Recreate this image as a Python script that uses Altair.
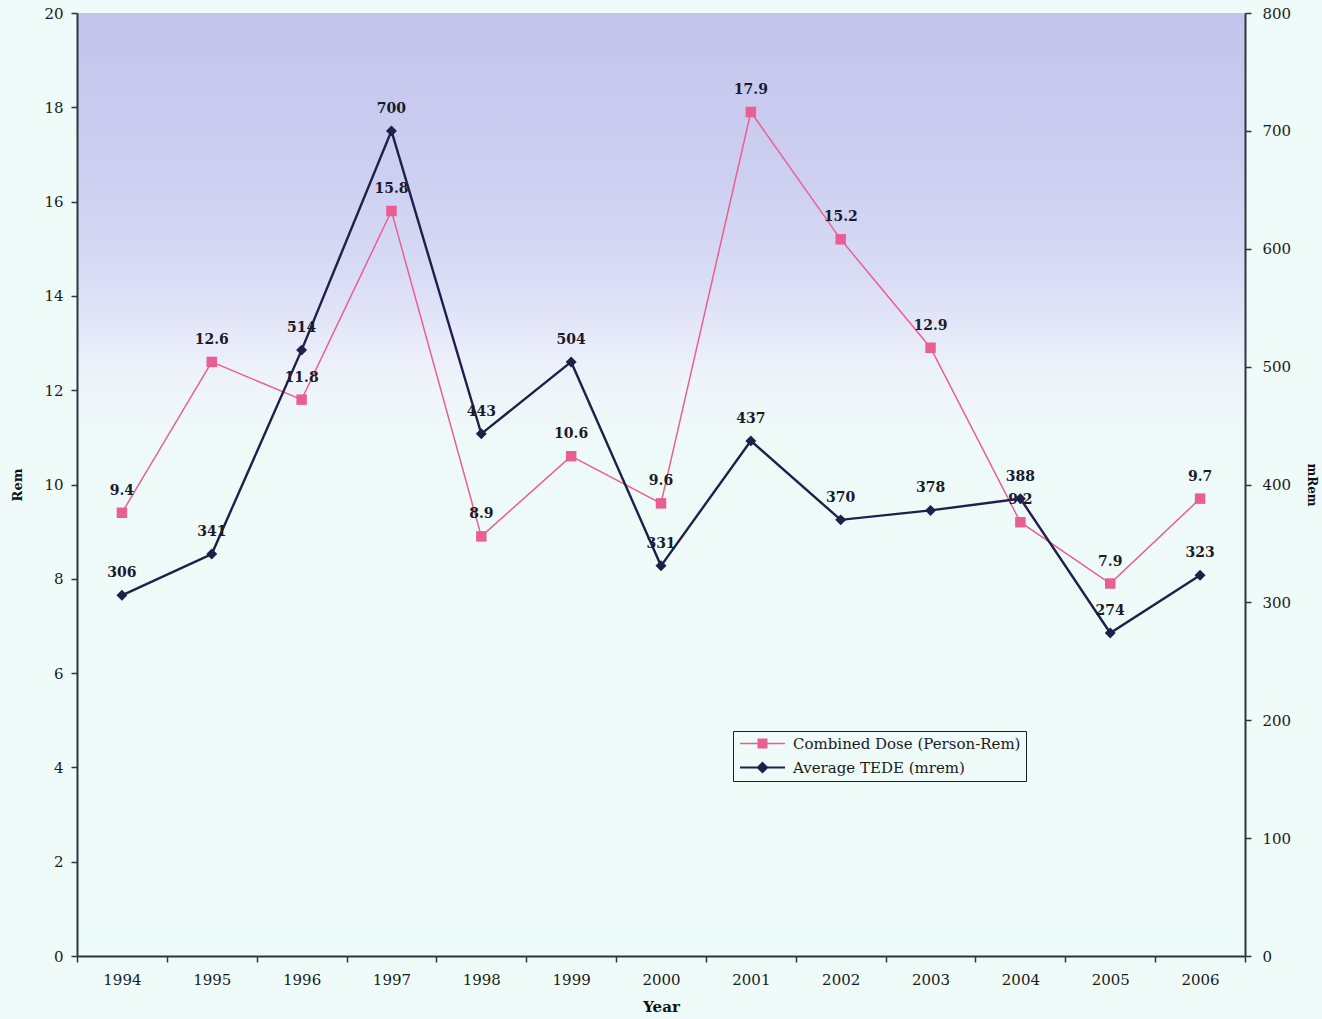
import altair as alt
import pandas as pd

# Annual dose figures, 1994-2006
years = ["1994", "1995", "1996", "1997", "1998", "1999", "2000",
         "2001", "2002", "2003", "2004", "2005", "2006"]
combined_dose = [9.4, 12.6, 11.8, 15.8, 8.9, 10.6, 9.6, 17.9, 15.2, 12.9, 9.2, 7.9, 9.7]
average_tede = [306, 341, 514, 700, 443, 504, 331, 437, 370, 378, 388, 274, 323]

SERIES_DOSE = "Combined Dose (Person-Rem)"
SERIES_TEDE = "Average TEDE (mrem)"
PINK = "#ea5f93"
NAVY = "#1d2048"
FONT = "DejaVu Serif"
W, H = 1168, 943

# Legend glyphs: a short line with the series marker on it (unit box, scaled by symbol size)
GLYPH_SQUARE = "M-4.5,-0.16H4.5V0.16H-4.5Z M-1,-1H1V1H-1Z"
GLYPH_DIAMOND = "M-4.5,-0.22H4.5V0.22H-4.5Z M0,-1.2L1.2,0L0,1.2L-1.2,0Z"

dose_df = pd.DataFrame({"Year": years, "value": combined_dose})
tede_df = pd.DataFrame({"Year": years, "value": average_tede})
legend_df = pd.DataFrame({"series": [SERIES_DOSE, SERIES_TEDE]})

x_enc = alt.X(
    "Year:O",
    sort=years,
    scale=alt.Scale(paddingInner=0, paddingOuter=0),
    axis=alt.Axis(
        title="Year", labelAngle=0, tickBand="extent", labelPadding=10,
        titlePadding=12, titleFontWeight="bold", titleFontSize=15, zindex=2,
    ),
)

# Plot-area background: lavender at the top fading to pale cyan
background = alt.Chart(pd.DataFrame({"a": [0]})).mark_rect(
    color=alt.Gradient(
        gradient="linear", x1=0, x2=0, y1=0, y2=1,
        stops=[
            alt.GradientStop(offset=0, color="#c2c4ec"),
            alt.GradientStop(offset=0.18, color="#cdd0f1"),
            alt.GradientStop(offset=0.28, color="#d9dcf5"),
            alt.GradientStop(offset=0.34, color="#e6e9f9"),
            alt.GradientStop(offset=0.39, color="#eef4fa"),
            alt.GradientStop(offset=0.45, color="#eefaf8"),
            alt.GradientStop(offset=1, color="#eefcf9"),
        ],
    )
).encode(x=alt.value(1), x2=alt.value(W), y=alt.value(0), y2=alt.value(H))

y_left = alt.Y(
    "value:Q",
    scale=alt.Scale(domain=[0, 20]),
    axis=alt.Axis(
        title="Rem", orient="left", values=list(range(0, 21, 2)), grid=False,
        labelPadding=8, titleX=-60, titleY=H / 2, titleBaseline="middle",
        titleFontWeight="bold", titleFontSize=13, zindex=2,
    ),
)
y_right = alt.Y(
    "value:Q",
    scale=alt.Scale(domain=[0, 800]),
    axis=alt.Axis(
        title="mRem", orient="right", values=list(range(0, 801, 100)), grid=False,
        labelPadding=11, titleX=66, titleY=H / 2, titleBaseline="middle",
        titleFontWeight="bold", titleFontSize=12, zindex=2,
    ),
)

dose_base = alt.Chart(dose_df).encode(x=x_enc, y=y_left)
dose_line = dose_base.mark_line(strokeWidth=1.5, color=PINK)
dose_pts = dose_base.mark_point(shape="square", filled=True, size=110, opacity=1, color=PINK)
dose_lbl = dose_base.mark_text(
    dy=-22, font=FONT, fontSize=14, fontWeight="bold", color="#1a1a2a"
).encode(text=alt.Text("value:Q", format=".1f"))

tede_base = alt.Chart(tede_df).encode(x=x_enc, y=y_right)
tede_line = tede_base.mark_line(strokeWidth=2.4, color=NAVY)
tede_pts = tede_base.mark_point(shape="diamond", filled=True, size=120, opacity=1, color=NAVY)
tede_lbl = tede_base.mark_text(
    dy=-22, font=FONT, fontSize=14, fontWeight="bold", color="#1a1a2a"
).encode(text=alt.Text("value:Q"))

legend_opts = dict(
    title=None, orient="none", legendX=656, legendY=718,
    fillColor="#eefbf8", strokeColor="#222222", padding=5,
    symbolSize=100, symbolOffset=17, labelOffset=23, rowPadding=8,
    symbolOpacity=1, symbolStrokeWidth=0, labelLimit=400,
    labelFont=FONT, labelFontSize=15, labelColor="#1a1a1a",
)

# Legend-only layer: its rows are filtered out, the scales' domains keep the entries
legend_layer = alt.Chart(legend_df).transform_filter("false").mark_point(
    filled=True, size=100, opacity=1
).encode(
    color=alt.Color(
        "series:N",
        scale=alt.Scale(domain=[SERIES_DOSE, SERIES_TEDE], range=[PINK, NAVY]),
        legend=alt.Legend(**legend_opts),
    ),
    shape=alt.Shape(
        "series:N",
        scale=alt.Scale(domain=[SERIES_DOSE, SERIES_TEDE], range=[GLYPH_SQUARE, GLYPH_DIAMOND]),
        legend=alt.Legend(**legend_opts),
    ),
)

dose_layer = alt.layer(dose_line, dose_pts, dose_lbl)
tede_layer = alt.layer(tede_line, tede_pts, tede_lbl)

chart = (
    alt.layer(background, dose_layer, tede_layer, legend_layer)
    .resolve_scale(y="independent")
    .properties(
        width=W, height=H,
        autosize=alt.AutoSizeParams(type="none"),
        padding={"left": 77, "top": 13, "right": 77, "bottom": 63},
        background="#eefbf8",
    )
    .configure_view(stroke="#8a8a8a", strokeWidth=1)
    .configure_axis(
        labelFont=FONT, titleFont=FONT, labelFontSize=15, labelColor="#1a1a1a",
        titleColor="#111111", domainColor="#2e3440", domainWidth=2,
        tickColor="#2e3440", tickWidth=1.5, tickSize=6,
    )
)

chart.save("out.html", embed_options={"renderer": "svg", "actions": False})
